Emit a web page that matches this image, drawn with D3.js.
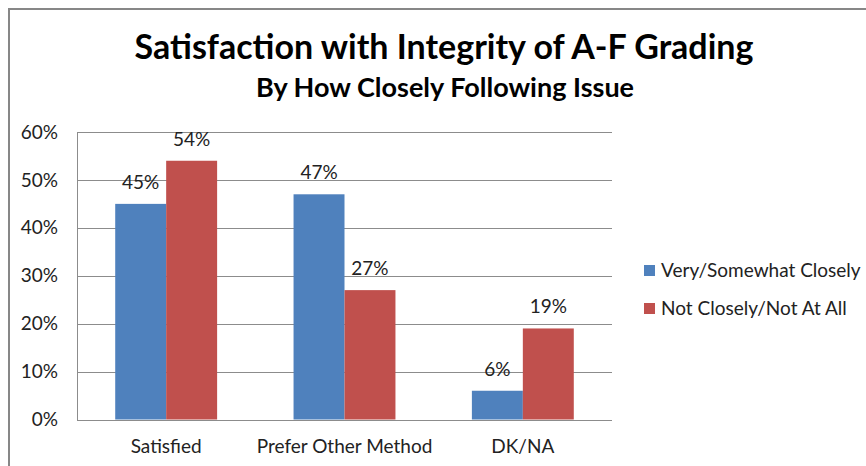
<!DOCTYPE html>
<html lang="en">
<head>
    <meta charset="UTF-8">
    <title>Satisfaction with Integrity of A-F Grading</title>
    <script src="https://d3js.org/d3.v7.min.js"></script>
    <style>
        body {
            margin: 0;
            background: #fff;
        }
        svg {
            display: block;
            font-family: Lato, "Liberation Sans", Arial, sans-serif;
        }
    </style>
</head>
<body>
    <div id="container"></div>

    <script>
        // data
        const categories = ['Satisfied', 'Prefer Other Method', 'DK/NA'];
        const seriesNames = ['Very/Somewhat Closely', 'Not Closely/Not At All'];
        const veryClosely = [45, 47, 6];
        const notClosely = [54, 27, 19];
        const yTicks = [0, 10, 20, 30, 40, 50, 60];
        const colors = ['#4F81BD', '#C0504D'];

        const width = 866, height = 466;
        const plot = {left: 77, right: 612, top: 132, bottom: 419.5};
        const labelSize = 19;

        const svg = d3.select('#container').append('svg')
            .attr('width', width)
            .attr('height', height);

        // outer chart border (runs off the right / bottom of the picture)
        svg.append('rect')
            .attr('x', 9).attr('y', 9)
            .attr('width', 900).attr('height', 500)
            .attr('fill', 'none')
            .attr('stroke', '#878787')
            .attr('stroke-width', 2);

        // titles
        svg.append('text')
            .attr('x', 444).attr('y', 59)
            .attr('text-anchor', 'middle')
            .attr('font-weight', 'bold')
            .attr('font-size', 34)
            .attr('fill', '#000')
            .text('Satisfaction with Integrity of A-F Grading');

        svg.append('text')
            .attr('x', 445).attr('y', 97)
            .attr('text-anchor', 'middle')
            .attr('font-weight', 'bold')
            .attr('font-size', 27)
            .attr('fill', '#000')
            .text('By How Closely Following Issue');

        // scales
        const x0 = d3.scaleBand()
            .domain(categories)
            .range([plot.left, plot.right])
            .paddingInner(0)
            .paddingOuter(0);

        // bars take 2/3.5 of each band (gap width 150%)
        const barW = x0.bandwidth() / 3.5;
        const x1 = d3.scaleBand()
            .domain(seriesNames)
            .range([x0.bandwidth() * 0.75 / 3.5, x0.bandwidth() * 0.75 / 3.5 + barW * 2]);

        const y = d3.scaleLinear()
            .domain([0, 60])
            .range([plot.bottom, plot.top]);

        // gridlines
        svg.append('g')
            .selectAll('line')
            .data(yTicks)
            .enter()
            .append('line')
            .attr('x1', plot.left)
            .attr('x2', plot.right)
            .attr('y1', d => Math.round(y(d)) + 0.5)
            .attr('y2', d => Math.round(y(d)) + 0.5)
            .attr('stroke', '#8c8c8c')
            .attr('stroke-width', 1);

        // y axis
        const yAxis = svg.append('g')
            .attr('transform', `translate(${plot.left},0)`)
            .call(d3.axisLeft(y).tickValues(yTicks).tickSize(0).tickPadding(19).tickFormat(d => d + '%'));
        yAxis.select('.domain').attr('stroke', '#8c8c8c');
        yAxis.selectAll('text')
            .attr('font-size', labelSize)
            .attr('font-family', 'Lato, "Liberation Sans", Arial, sans-serif')
            .attr('fill', '#222');

        // bars
        const rows = categories.map((c, i) => ({
            cat: c,
            vals: [veryClosely[i], notClosely[i]]
        }));

        const groups = svg.append('g')
            .selectAll('g')
            .data(rows)
            .enter()
            .append('g')
            .attr('transform', d => `translate(${x0(d.cat)},0)`);

        groups.selectAll('rect')
            .data(d => d.vals.map((v, j) => ({name: seriesNames[j], v: v, j: j})))
            .enter()
            .append('rect')
            .attr('x', d => x1(d.name))
            .attr('y', d => y(d.v))
            .attr('width', x1.bandwidth())
            .attr('height', d => y(0) - y(d.v))
            .attr('fill', d => colors[d.j]);

        // data labels
        groups.selectAll('text')
            .data(d => d.vals.map((v, j) => ({name: seriesNames[j], v: v})))
            .enter()
            .append('text')
            .attr('x', d => x1(d.name) + x1.bandwidth() / 2)
            .attr('y', d => y(d.v) - 15)
            .attr('text-anchor', 'middle')
            .attr('font-size', labelSize)
            .attr('fill', '#222')
            .text(d => d.v + '%');

        // x axis labels
        svg.append('g')
            .selectAll('text')
            .data(categories)
            .enter()
            .append('text')
            .attr('x', d => x0(d) + x0.bandwidth() / 2)
            .attr('y', 453)
            .attr('text-anchor', 'middle')
            .attr('font-size', labelSize)
            .attr('fill', '#222')
            .text(d => d);

        // legend
        const legend = svg.append('g')
            .selectAll('g')
            .data(seriesNames)
            .enter()
            .append('g')
            .attr('transform', (d, i) => `translate(644,${265 + i * 38})`);

        legend.append('rect')
            .attr('width', 11)
            .attr('height', 11)
            .attr('fill', (d, i) => colors[i]);

        legend.append('text')
            .attr('x', 17)
            .attr('y', 12)
            .attr('font-size', labelSize)
            .attr('fill', '#222')
            .text(d => d);
    </script>
</body>
</html>
